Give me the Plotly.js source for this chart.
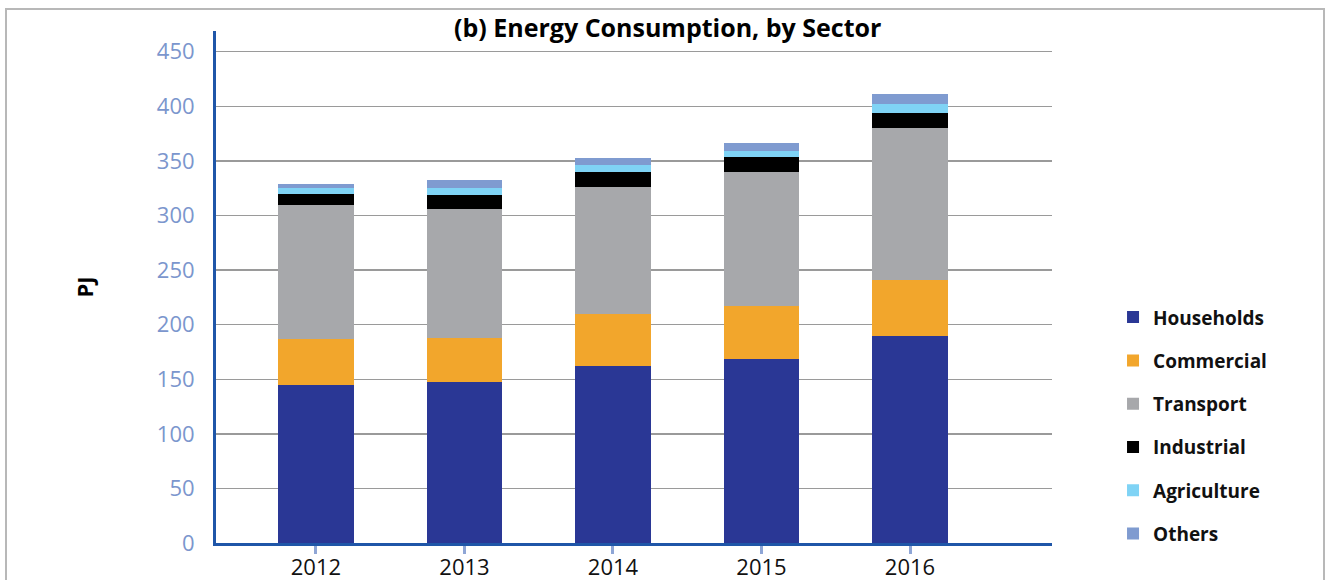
<!DOCTYPE html>
<html>
<head>
<meta charset="utf-8">
<script src="https://cdn.plot.ly/plotly-3.0.1.min.js"></script>
<style>
html,body{margin:0;padding:0;background:#fff;overflow:hidden;}
#chart{width:1330px;height:580px;position:absolute;left:0;top:0;}
#frame{position:absolute;left:5px;top:8px;width:1320px;height:600px;border:2px solid #b8b8b8;pointer-events:none;box-sizing:border-box;}
</style>
</head>
<body>
<div id="chart"></div>
<div id="frame"></div>
<script>
const years = ['2012','2013','2014','2015','2016'];
const households = [145, 147.6, 162, 168.6, 189.7];
const commercial = [42, 40.6, 48, 48.9, 51.3];
const transport = [123, 117.9, 116, 122.5, 139.3];
const industrial = [10, 12.9, 13.7, 13.8, 13.8];
const agriculture = [5.5, 6.4, 6.4, 5.5, 8.2];
const others = [3.7, 7.3, 6.5, 7.3, 9.2];

const seriesNames = ['Households','Commercial','Transport','Industrial','Agriculture','Others'];
const seriesValues = [households, commercial, transport, industrial, agriculture, others];
const seriesColors = ['#2a3795','#f2a62c','#a7a8ab','#000000','#7fd3f5','#7f9bd0'];
const yTicks = [0,50,100,150,200,250,300,350,400,450];

const traces = seriesNames.map((n,i)=>({
  type:'bar', name:'<b>'+n+'</b>', x:years, y:seriesValues[i],
  marker:{color:seriesColors[i], line:{width:0}},
  legendgroup:'g'+i, hoverinfo:'x+y+name'
}));

const layout = {
  width:1330, height:580,
  margin:{l:216, r:278, t:31, b:37},
  paper_bgcolor:'#ffffff', plot_bgcolor:'#ffffff',
  barmode:'stack', bargap:0.49,
  font:{family:'"Open Sans", sans-serif', color:'#000'},
  title:{text:'<b>(b) Energy Consumption, by Sector</b>', x:0.502, xref:'container', y:0.951, yref:'container', yanchor:'middle', font:{size:25, color:'#000'}},
  xaxis:{type:'category', range:[-0.673, 4.956], showgrid:false, showline:true, linecolor:'#1f56a8', linewidth:3,
    ticks:'outside', ticklen:8, tickwidth:3, tickcolor:'#8fa6d6', ticklabelstandoff:-5, tickfont:{size:22, color:'#111'}, fixedrange:true},
  yaxis:{range:[0,469], tickvals:yTicks, ticktext:yTicks.map(String), showgrid:true, gridcolor:'#9a9a9a', gridwidth:1.5,
    zeroline:false, showline:true, linecolor:'#1f56a8', linewidth:3, ticks:'', ticklabelstandoff:14,
    tickfont:{size:22, color:'#7b96cd'}, title:{text:'<b>PJ</b>', font:{size:22, color:'#000'}, standoff:58}, fixedrange:true},
  legend:{x:1.073, xanchor:'left', y:0.478, yanchor:'top', traceorder:'grouped', tracegroupgap:15.6,
    font:{size:19, color:'#111'}, bgcolor:'rgba(0,0,0,0)'},
  showlegend:true
};
Plotly.newPlot('chart', traces, layout, {displayModeBar:false, staticPlot:true});
</script>
</body>
</html>
